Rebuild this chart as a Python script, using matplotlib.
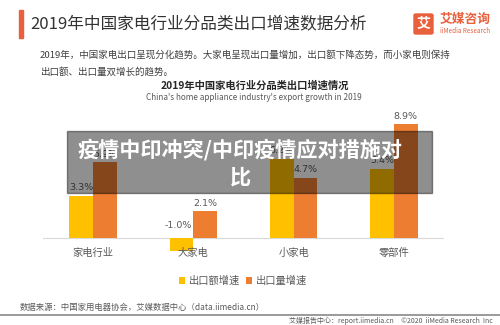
import matplotlib
matplotlib.use('Agg')
import matplotlib.pyplot as plt
from matplotlib.patches import Rectangle, FancyBboxPatch
import numpy as np

plt.rcParams['font.family'] = ['Noto Sans CJK SC', 'DejaVu Sans']

categories = ['家电行业', '大家电', '小家电', '零部件']
value_growth = [3.3, -1.0, 6.2, 5.4]    # 出口额增速 (%)
volume_growth = [5.9, 2.1, 4.7, 8.9]    # 出口量增速 (%)
series_names = ['出口额增速', '出口量增速']

YELLOW = '#FFC000'
ORANGE = '#ED7D31'

W, H = 500, 325
fig = plt.figure(figsize=(W / 100, H / 100), dpi=100)


def fx(px):
    return px / W


def fy(py):
    return 1 - py / H


# header
fig.patches.append(Rectangle((fx(19), fy(38)), fx(4), 28 / H, transform=fig.transFigure,
                             color='#E8603C', zorder=1))
fig.text(fx(30), fy(24), '2019年中国家电行业分品类出口增速数据分析', fontsize=12,
         color='#333333', va='center', ha='left')

# logo
fig.patches.append(FancyBboxPatch((fx(414), fy(34)), fx(19), 20 / H, transform=fig.transFigure,
                                  boxstyle='round,pad=0,rounding_size=0.004',
                                  color='#E8603C', zorder=1))
fig.text(fx(423.5), fy(24), '艾', fontsize=10, color='white', fontweight='bold',
         ha='center', va='center')
fig.text(fx(440), fy(19), '艾媒咨询', fontsize=9.2, color='#E8603C', fontweight='bold',
         ha='left', va='center')
fig.text(fx(440), fy(31), 'iiMedia Research', fontsize=4.6, color='#E8603C',
         ha='left', va='center')

fig.text(fx(40), fy(55), '2019年，中国家电出口呈现分化趋势。大家电呈现出口量增加，出口额下降态势，而小家电则保持',
         fontsize=6.85, color='#404040', va='center', ha='left')
fig.text(fx(40), fy(72), '出口额、出口量双增长的趋势。', fontsize=6.85, color='#404040',
         va='center', ha='left')

fig.text(fx(255), fy(86), '2019年中国家电行业分品类出口增速情况', fontsize=7.4,
         fontweight='bold', color='#262626', ha='center', va='center')
fig.text(fx(254), fy(97.5), "China's home appliance industry's export growth in 2019",
         fontsize=5.9, color='#595959', ha='center', va='center')

# chart
ax = fig.add_axes([fx(43), 0.2086, fx(401), 0.4529])
x = np.arange(len(categories))
bw = 0.236
b1 = ax.bar(x - bw / 2, value_growth, bw, color=YELLOW, label=series_names[0], zorder=2)
b2 = ax.bar(x + bw / 2, volume_growth, bw, color=ORANGE, label=series_names[1], zorder=2)
ax.set_xlim(-0.5, len(categories) - 0.5)
ax.set_ylim(-1.5, 10)
ax.axhline(0, color='#D9D9D9', lw=0.8, zorder=1)
ax.axis('off')

for xs, vals in ((x - bw / 2, value_growth), (x + bw / 2, volume_growth)):
    for xi, v in zip(xs, vals):
        # negative labels sit just above the baseline, nudged left
        off = (0, 2.5) if v >= 0 else (-2.5, 6)
        ax.annotate(f'{v:.1f}%', (xi, max(v, 0)), xytext=off, textcoords='offset points',
                    ha='center', va='bottom', fontsize=6.8, color='#595959',
                    family=['DejaVu Sans'])

for xi, name in zip(x, categories):
    ax.annotate(name, (xi, 0), xytext=(0, -10.5), textcoords='offset points',
                ha='center', va='center', fontsize=7.4, color='#595959')

fig.legend(handles=[b1, b2], loc='center', bbox_to_anchor=(fx(243), fy(281)), ncol=2,
           frameon=False, fontsize=7.4, handlelength=0.6, handleheight=0.6,
           handletextpad=0.4, columnspacing=0.5, labelcolor='#595959')

# footer
fig.text(fx(20), fy(307), '数据来源：中国家用电器协会，艾媒数据中心（data.iimedia.cn）',
         fontsize=6.0, color='#595959', ha='left', va='center')
fig.lines.append(plt.Line2D([0, 1], [fy(315), fy(315)], transform=fig.transFigure,
                            color='#7F7F7F', lw=1.1))
fig.text(fx(493), fy(320.5), '艾媒报告中心：report.iimedia.cn     ©2020  iiMedia Research  Inc',
         fontsize=5.0, color='#595959', ha='right', va='center')

# overlay banner
fig.patches.append(Rectangle((fx(67), fy(193)), fx(365), 62 / H, transform=fig.transFigure,
                             color='black', alpha=0.44, zorder=5))
fig.text(fx(240), fy(163.5), '疫情中印冲突/中印疫情应对措施对\n比', fontsize=15.2,
         fontweight='bold', color='white', ha='center', va='center',
         multialignment='center', linespacing=1.35, zorder=6)

fig.savefig('out.png', dpi=100)
